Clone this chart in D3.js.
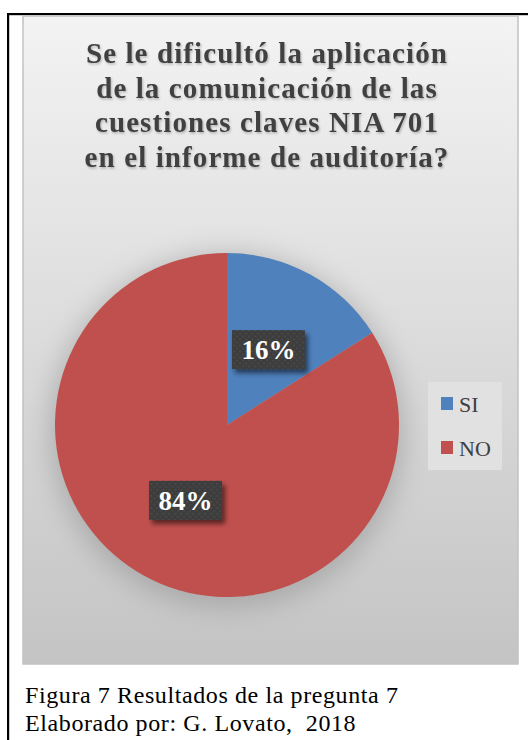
<!DOCTYPE html>
<html>
<head>
<meta charset="utf-8">
<script src="https://cdn.jsdelivr.net/npm/d3@7"></script>
<style>
  html, body { margin: 0; padding: 0; background: #ffffff; }
  svg { display: block; }
</style>
</head>
<body>
<script>
// ---- data ----
const categories = ["SI", "NO"];
const values = [16, 84];
const valueLabels = ["16%", "84%"];
const sliceColors = ["#4f81bd", "#c0504d"];
const titleLines = [
  "Se le dificultó la aplicación",
  "de la comunicación de las",
  "cuestiones claves  NIA 701",
  "en el informe de auditoría?"
];
const captionLines = [
  "Figura 7 Resultados de la pregunta 7",
  "Elaborado por: G. Lovato,  2018"
];

// ---- layout ----
const W = 528, H = 740;
const panel = { x: 23, y: 16, w: 495, h: 648 };
const cx = 227, cy = 425, R = 172;

const svg = d3.select("body").append("svg")
  .attr("width", W).attr("height", H)
  .style("white-space", "pre");

const defs = svg.append("defs");
const bg = defs.append("linearGradient").attr("id", "bg")
  .attr("x1", 0).attr("y1", 0).attr("x2", 0).attr("y2", 1);
bg.append("stop").attr("offset", "0%").attr("stop-color", "#f3f3f3");
bg.append("stop").attr("offset", "45%").attr("stop-color", "#dedede");
bg.append("stop").attr("offset", "100%").attr("stop-color", "#c4c4c4");

const halo = defs.append("filter").attr("id", "halo")
  .attr("x", "-50%").attr("y", "-50%").attr("width", "200%").attr("height", "200%");
halo.append("feGaussianBlur").attr("stdDeviation", 14);

const shadow = defs.append("filter").attr("id", "boxShadow")
  .attr("x", "-30%").attr("y", "-30%").attr("width", "160%").attr("height", "160%");
shadow.append("feDropShadow").attr("dx", 3).attr("dy", 4)
  .attr("stdDeviation", 2.5).attr("flood-color", "#000").attr("flood-opacity", 0.55);

const tshadow = defs.append("filter").attr("id", "textShadow")
  .attr("x", "-10%").attr("y", "-30%").attr("width", "120%").attr("height", "160%");
tshadow.append("feDropShadow").attr("dx", 1).attr("dy", 1.5)
  .attr("stdDeviation", 1.2).attr("flood-color", "#000").attr("flood-opacity", 0.25);

const dots = defs.append("pattern").attr("id", "dots")
  .attr("patternUnits", "userSpaceOnUse").attr("width", 6).attr("height", 6);
dots.append("rect").attr("width", 6).attr("height", 6).attr("fill", "#3d3d3d");
dots.append("rect").attr("x", 1).attr("y", 1).attr("width", 1.2).attr("height", 1.2).attr("fill", "#5a5a5a");
dots.append("rect").attr("x", 4).attr("y", 4).attr("width", 1.2).attr("height", 1.2).attr("fill", "#555");

// outer frame lines
svg.append("rect").attr("x", 7).attr("y", 13).attr("width", W - 7).attr("height", 2.2).attr("fill", "#000");
svg.append("rect").attr("x", 7).attr("y", 13).attr("width", 2.2).attr("height", H - 13).attr("fill", "#000");

// chart panel
svg.append("rect")
  .attr("x", panel.x).attr("y", panel.y).attr("width", panel.w).attr("height", panel.h)
  .attr("fill", "url(#bg)").attr("stroke", "#c2c2c2").attr("stroke-width", 1.5);

// title
svg.append("g").attr("filter", "url(#textShadow)")
  .selectAll("text").data(titleLines).join("text")
  .attr("x", 267).attr("y", (d, i) => 63 + i * 34.7)
  .attr("text-anchor", "middle")
  .attr("font-family", "'Liberation Serif', 'Times New Roman', serif")
  .attr("font-weight", "bold").attr("font-size", 29)
  .attr("letter-spacing", 1.1)
  .attr("fill", "#404040")
  .text(d => d);

// pie
const pie = d3.pie().sort(null).value(d => d.value);
const arcs = pie(categories.map((c, i) => ({ cat: c, value: values[i], label: valueLabels[i], color: sliceColors[i] })));
const arc = d3.arc().innerRadius(0).outerRadius(R);

const g = svg.append("g").attr("transform", `translate(${cx},${cy})`);
g.append("circle").attr("cx", 0).attr("cy", 6).attr("r", R + 4)
  .attr("fill", "#8c8c8c").attr("opacity", 0.55).attr("filter", "url(#halo)");
g.selectAll("path.slice").data(arcs).join("path")
  .attr("class", "slice")
  .attr("d", arc)
  .attr("fill", d => d.data.color);

// data labels
const boxW = 73, boxH = 39;
const lab = g.selectAll("g.lab").data(arcs).join("g")
  .attr("class", "lab")
  .attr("transform", d => { const c = arc.centroid(d); return `translate(${c[0]},${c[1]})`; });
lab.append("rect")
  .attr("x", -boxW / 2).attr("y", -boxH / 2).attr("width", boxW).attr("height", boxH)
  .attr("fill", "url(#dots)").attr("filter", "url(#boxShadow)");
lab.append("text")
  .attr("x", 0).attr("y", 9.5)
  .attr("text-anchor", "middle")
  .attr("font-family", "'Liberation Serif', 'Times New Roman', serif")
  .attr("font-weight", "bold").attr("font-size", 27)
  .attr("fill", "#ffffff")
  .text(d => d.data.label);

// legend
const leg = svg.append("g");
leg.append("rect").attr("x", 428).attr("y", 382).attr("width", 74).attr("height", 88)
  .attr("fill", "#e1e1e1");
const items = leg.selectAll("g.item").data(categories).join("g")
  .attr("class", "item")
  .attr("transform", (d, i) => `translate(441,${397 + i * 44})`);
items.append("rect").attr("width", 12).attr("height", 13)
  .attr("fill", (d, i) => sliceColors[i]);
items.append("text").attr("x", 18).attr("y", 15)
  .attr("font-family", "'Liberation Serif', 'Times New Roman', serif")
  .attr("font-size", 22).attr("fill", "#404040")
  .text(d => d);

// caption
svg.selectAll("text.cap").data(captionLines).join("text")
  .attr("class", "cap")
  .attr("x", 25).attr("y", (d, i) => 703 + i * 27.5)
  .attr("font-family", "'Liberation Serif', 'Times New Roman', serif")
  .attr("font-size", 24).attr("letter-spacing", 0.6)
  .attr("fill", "#000")
  .attr("xml:space", "preserve")
  .text(d => d);
</script>
</body>
</html>
